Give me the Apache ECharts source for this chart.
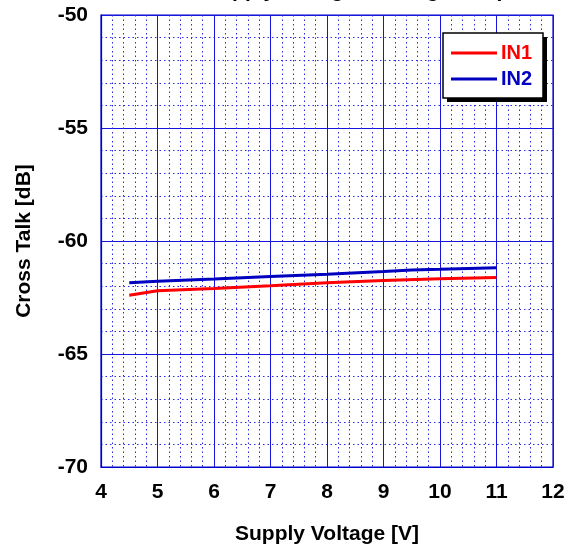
<!DOCTYPE html>
<html><head><meta charset="utf-8">
<script src="https://cdn.jsdelivr.net/npm/echarts@6/dist/echarts.min.js"></script>
<style>html,body{margin:0;padding:0;background:#fff}#c{width:568px;height:546px}</style>
</head><body><div id="c"></div>
<script>
var in1X = [4.5, 5, 6, 7, 8, 9, 10, 11];
var in1Y = [-62.4, -62.2, -62.1, -61.98, -61.85, -61.75, -61.67, -61.62];
var in2X = [4.5, 5, 6, 7, 8, 9, 9.5, 10, 11];
var in2Y = [-61.85, -61.78, -61.68, -61.57, -61.47, -61.35, -61.28, -61.25, -61.18];
var xTicks = [4, 5, 6, 7, 8, 9, 10, 11, 12];
var yTicks = [-70, -65, -60, -55, -50];
var seriesNames = ['IN1', 'IN2'];
var seriesColors = ['#ff0000', '#0000c0'];

function zip(xs, ys){ return xs.map(function(x,i){ return [x, ys[i]]; }); }
var F = 'Liberation Sans, Arial, sans-serif';
var chart = echarts.init(document.getElementById('c'), null, {renderer:'canvas'});
var major = '#1515dd';
var minor = '#2a2ae0';
chart.setOption({
  animation: false,
  backgroundColor: '#fff',
  title: {
    text: 'Cross Talk vs. Supply Voltage, Driving 1 Amp',
    left: 'center', top: -24,
    textStyle: {fontFamily: F, fontSize: 21, fontWeight: 'bold', color: '#000'}
  },
  grid: {left: 101, right: 15, top: 15, bottom: 79, outerBoundsMode: 'none', containLabel: false,
    show: true, borderColor: '#0000cc', borderWidth: 1.2, backgroundColor: 'transparent'},
  graphic: [
    {type: 'rect', z: 10, shape: {x: 447, y: 37, width: 100, height: 65}, style: {fill: '#000'}},
    {type: 'rect', z: 11, shape: {x: 443, y: 33, width: 100, height: 65}, style: {fill: '#fff', stroke: '#000', lineWidth: 1.5}}
  ],
  legend: {
    orient: 'vertical', left: 443, top: 33, z: 20,
    padding: [10, 8, 10, 8],
    itemGap: 6, itemWidth: 46, itemHeight: 3, icon: 'rect',
    backgroundColor: 'transparent', borderWidth: 0,
    textStyle: {fontFamily: F, fontSize: 20, fontWeight: 'bold', padding: [0, 0, 0, -1]},
    data: seriesNames.map(function(n,i){ return {name: n, textStyle: {color: seriesColors[i]}}; })
  },
  xAxis: {
    type: 'value', min: 4, max: 12, interval: 1,
    axisLine: {show: true, lineStyle: {color: '#0000cc', width: 1.2}},
    axisTick: {show: false},
    minorTick: {show: false, splitNumber: 5},
    splitLine: {show: true, lineStyle: {color: major, width: 1, opacity: 1}},
    minorSplitLine: {show: true, lineStyle: {color: minor, width: 1, type: [1.5, 3]}},
    axisLabel: {margin: 15, fontFamily: F, fontSize: 21, fontWeight: 'bold', color: '#000',
      formatter: function(v){ return xTicks.indexOf(v) >= 0 ? String(v) : ''; }},
    name: 'Supply Voltage [V]', nameLocation: 'middle', nameGap: 57,
    nameTextStyle: {fontFamily: F, fontSize: 21, fontWeight: 'bold', color: '#000'}
  },
  yAxis: {
    type: 'value', min: -70, max: -50, interval: 5,
    axisLine: {show: true, lineStyle: {color: '#0000cc', width: 1.2}},
    axisTick: {show: false},
    minorTick: {show: false, splitNumber: 5},
    splitLine: {show: true, lineStyle: {color: major, width: 1, opacity: 1}},
    minorSplitLine: {show: true, lineStyle: {color: minor, width: 1, type: [1.5, 3]}},
    axisLabel: {margin: 13, fontFamily: F, fontSize: 21, fontWeight: 'bold', color: '#000',
      formatter: function(v){ return yTicks.indexOf(v) >= 0 ? String(v) : ''; }},
    name: 'Cross Talk [dB]', nameLocation: 'middle', nameGap: 66,
    nameTextStyle: {fontFamily: F, fontSize: 21, fontWeight: 'bold', color: '#000'}
  },
  series: [
    {name: seriesNames[0], type: 'line', data: zip(in1X, in1Y), symbol: 'none', lineStyle: {color: seriesColors[0], width: 3}, itemStyle: {color: seriesColors[0]}},
    {name: seriesNames[1], type: 'line', data: zip(in2X, in2Y), symbol: 'none', lineStyle: {color: seriesColors[1], width: 3}, itemStyle: {color: seriesColors[1]}}
  ]
});
</script></body></html>
